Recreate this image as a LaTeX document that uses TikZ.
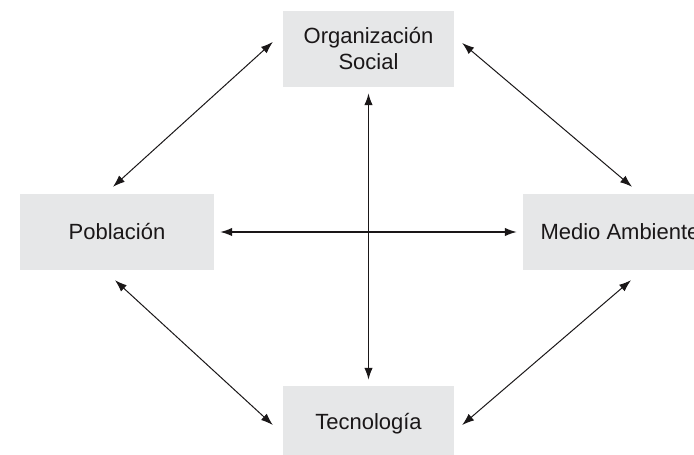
\documentclass[tikz,border=0pt]{standalone}
\usepackage{fontspec}
\setmainfont{Liberation Sans}
\usetikzlibrary{arrows.meta,calc}
\definecolor{boxgray}{HTML}{E6E7E8}
\definecolor{ink}{HTML}{1A1718}
\tikzset{
  conceptbox/.style={fill=boxgray, draw=none, align=center, text=ink,
    font=\fontsize{22}{26}\selectfont, inner sep=0pt},
  wide/.style={conceptbox, minimum width=194pt, minimum height=76pt},
  narrow/.style={conceptbox, minimum width=171pt, minimum height=76pt},
  thinlink/.style={draw=ink, line width=1pt, {Latex[length=12pt,width=8.5pt]}-{Latex[length=12pt,width=8.5pt]}},
  thicklink/.style={draw=ink, line width=1.5pt, {Latex[length=12pt,width=8.5pt]}-{Latex[length=12pt,width=8.5pt]}, shorten <=6pt, shorten >=6pt}
}
\begin{document}
\begin{tikzpicture}[x=1pt,y=1pt]
\useasboundingbox (0,0) rectangle (694,455);
\clip (0,0) rectangle (694,455);
\node[narrow] (org) at (368.5,406) {Organización\\Social};
\node[wide] (pob) at (117,223) {Población};
\node[wide] (med) at (620,223) {Medio Ambiente};
\node[narrow] (tec) at (368.5,31) {Tecnología};
% diagonal end points
\coordinate (orgW) at ($(org.west)+(-10,7)$);
\coordinate (orgE) at ($(org.east)+(8,6)$);
\coordinate (pobN) at ($(pob.north)+(-4,7)$);
\coordinate (pobS) at ($(pob.south)+(-2,-10)$);
\coordinate (medN) at ($(med.north)+(12,7)$);
\coordinate (medS) at ($(med.south)+(11,-10)$);
\coordinate (tecW) at ($(tec.west)+(-10,-1)$);
\coordinate (tecE) at ($(tec.east)+(8,-1)$);
\draw[thinlink] (orgW) -- (pobN);
\draw[thinlink] (orgE) -- (medN);
\draw[thinlink] (pobS) -- (tecW);
\draw[thinlink] (medS) -- (tecE);
\draw[thicklink] (pob.east) -- (med.west);
\draw[thicklink] (org.south) -- (tec.north);
\end{tikzpicture}
\end{document}
